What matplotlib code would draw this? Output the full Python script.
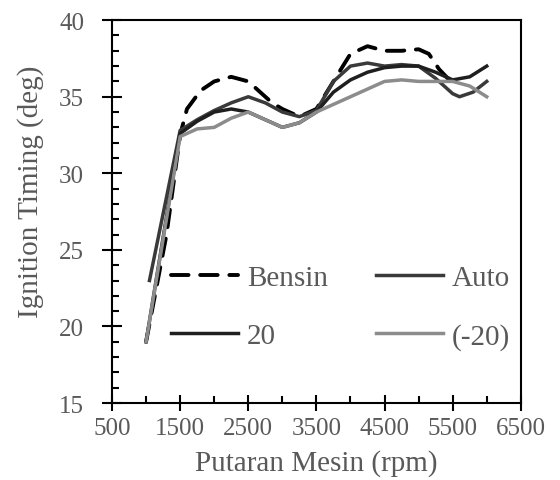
import matplotlib
matplotlib.use('Agg')
import matplotlib.pyplot as plt
from matplotlib.ticker import MultipleLocator

# data (rpm, ignition timing in deg)
rpm_bensin = [1000, 1300, 1500, 1600, 1800, 2000, 2250, 2500, 2650, 2850, 3000, 3250, 3500,
              3750, 4000, 4250, 4500, 4750, 5000, 5150, 5300, 5450]
bensin = [19.0, 26.0, 32.5, 34.2, 35.4, 36.0, 36.3, 36.0, 35.4, 34.6, 34.2, 33.7, 34.2,
          36.0, 37.8, 38.3, 38.0, 38.0, 38.1, 37.8, 36.8, 36.1]

rpm_auto = [1050, 1500, 1750, 2000, 2250, 2500, 2750, 3000, 3250, 3500, 3750, 4000, 4250,
            4500, 4750, 5000, 5250, 5500, 5600, 5800, 6000]
auto = [23.0, 32.8, 33.5, 34.1, 34.6, 35.0, 34.6, 34.0, 33.7, 34.1, 36.0, 37.0, 37.2,
        37.0, 37.1, 37.0, 36.2, 35.2, 35.0, 35.3, 36.0]

rpm_20 = [1000, 1500, 1750, 2000, 2250, 2500, 2750, 3000, 3250, 3500, 3750, 4000, 4250,
          4500, 4750, 5000, 5250, 5500, 5750, 6000]
plus20 = [19.0, 32.6, 33.4, 34.0, 34.2, 34.0, 33.5, 33.0, 33.3, 34.0, 35.3, 36.1, 36.6,
          36.9, 37.0, 37.0, 36.6, 36.1, 36.3, 37.0]

rpm_m20 = [1000, 1500, 1750, 2000, 2250, 2500, 2750, 3000, 3250, 3500, 3750, 4000, 4250,
           4500, 4750, 5000, 5250, 5500, 5750, 6000]
minus20 = [19.0, 32.4, 32.9, 33.0, 33.6, 34.0, 33.5, 33.0, 33.3, 34.0, 34.5, 35.0, 35.5,
           36.0, 36.1, 36.0, 36.0, 36.0, 35.7, 35.0]

x_ticks = [500, 1500, 2500, 3500, 4500, 5500, 6500]
y_ticks = [15, 20, 25, 30, 35, 40]

plt.rcParams['font.family'] = ['Liberation Serif', 'DejaVu Serif']
text_col = '#595959'

fig = plt.figure(figsize=(5.6, 4.81), dpi=100)
ax = fig.add_axes([0.2, 0.16, 0.73, 0.796])

lw = 2.5
l_bensin, = ax.plot(rpm_bensin, bensin, color='black', lw=2.8, dashes=(4.5, 3),
                    solid_joinstyle='round', dash_capstyle='round')
l_auto, = ax.plot(rpm_auto, auto, color='#3a3a3a', lw=lw, solid_joinstyle='round')
l_20, = ax.plot(rpm_20, plus20, color='#1f1f1f', lw=lw, solid_joinstyle='round')
l_m20, = ax.plot(rpm_m20, minus20, color='#8c8c8c', lw=lw, solid_joinstyle='round')

ax.set_xlim(500, 6500)
ax.set_ylim(15, 40)
ax.set_xticks(x_ticks)
ax.set_yticks(y_ticks)
ax.xaxis.set_minor_locator(MultipleLocator(500))
ax.yaxis.set_minor_locator(MultipleLocator(1))

ax.tick_params(which='both', labelsize=18, labelcolor=text_col)
ax.tick_params(axis='x', which='major', direction='inout', length=12, width=1.5, pad=4)
ax.tick_params(axis='y', which='major', direction='inout', length=14, width=1.5, pad=13)
ax.tick_params(which='minor', direction='in', length=5, width=1.5)
for s in ax.spines.values():
    s.set_linewidth(1.5)
    s.set_color('black')

ax.set_xlabel('Putaran Mesin (rpm)', fontsize=21, color=text_col, va='center')
ax.xaxis.set_label_coords(0.5, -0.155)
ax.set_ylabel('Ignition Timing (deg)', fontsize=21, color=text_col, va='center')
ax.yaxis.set_label_coords(-0.2, 0.553)

# row-major order: Bensin, Auto / 20, (-20)
leg = ax.legend([l_bensin, l_20, l_auto, l_m20], ['Bensin', '20', 'Auto', '(-20)'],
                loc='upper left', bbox_to_anchor=(0.144, 0.362), ncol=2, frameon=False,
                fontsize=21, handlelength=2.3, handletextpad=0.3, columnspacing=1.64,
                labelspacing=1.1, borderpad=0, borderaxespad=0)
for t in leg.get_texts():
    t.set_color(text_col)

fig.savefig('out.png', dpi=100)
